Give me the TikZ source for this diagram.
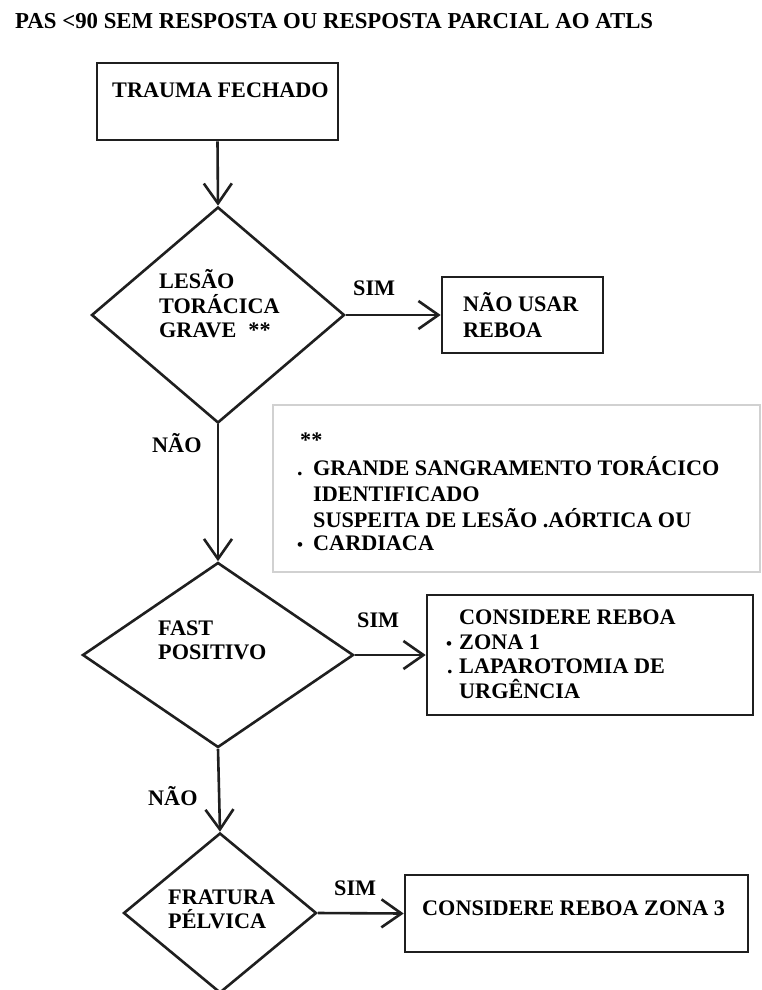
\documentclass[tikz,border=0pt]{standalone}
\usepackage{fontspec}
\setmainfont{Liberation Serif}
\usetikzlibrary{shapes.geometric,arrows.meta}
\begin{document}
\begin{tikzpicture}[x=1pt,y=-1pt,
  every node/.style={font=\bfseries\fontsize{22.2}{25}\selectfont, text=black},
  box/.style={draw=black!88, line width=2.6pt, rectangle, inner sep=0pt},
  dia/.style={draw=black!88, line width=2.6pt, diamond, inner sep=0pt},
  note/.style={draw=black!18, line width=2.4pt, rectangle, inner sep=0pt},
  txt/.style={anchor=base west, inner sep=0pt},
  arr/.style={draw=black!88, line width=2.6pt, -{Straight Barb[length=20pt,width=28pt]}}]
\useasboundingbox (0,0) rectangle (762,990);
\fill[white] (0,0) rectangle (762,990);

% title
\node[txt, font=\bfseries\fontsize{22.8}{25}\selectfont] (title) at (15,29) {PAS <90 SEM RESPOSTA OU RESPOSTA PARCIAL AO ATLS};

% shapes
\node[box, minimum width=241pt, minimum height=77pt] (trauma) at (217.5,101.5) {};
\node[dia, minimum width=253pt, minimum height=216pt] (d1) at (218,315) {};
\node[box, minimum width=161pt, minimum height=76pt] (naousar) at (522.5,315) {};
\node[note, minimum width=487pt, minimum height=167pt] (nota) at (516.5,488.5) {};
\node[dia, minimum width=271pt, minimum height=185pt] (d2) at (218,655) {};
\node[box, minimum width=326pt, minimum height=120pt] (zona1) at (590,655) {};
\node[dia, minimum width=193pt, minimum height=160pt] (d3) at (220,913) {};
\node[box, minimum width=343pt, minimum height=77pt] (zona3) at (576.5,913.5) {};

% texts
\node[txt] (t1) at (112,97) {TRAUMA FECHADO};
\node[txt] (l1) at (159,288) {LESÃO};
\node[txt] (l2) at (159,313) {TORÁCICA};
\node[txt] (l3) at (159,337) {GRAVE\hspace{12pt}**};
\node[txt] (s1) at (353,295) {SIM};
\node[txt] (n1a) at (463,311) {NÃO USAR};
\node[txt] (n1b) at (463,337) {REBOA};
\node[txt] (nao1) at (152,452) {NÃO};

\node[txt] (ast) at (300,447) {**};
\node[txt] (b1) at (297,475) {.};
\node[txt] (g1) at (313,475) {GRANDE SANGRAMENTO TORÁCICO};
\node[txt] (g2) at (313,501) {IDENTIFICADO};
\node[txt] (g3) at (313,527) {SUSPEITA DE LESÃO .AÓRTICA OU};
\node[txt] (b2) at (297,550) {\fontsize{17}{18}\selectfont •};
\node[txt] (g4) at (313,550) {CARDIACA};

\node[txt] (f1) at (158,635) {FAST};
\node[txt] (f2) at (158,659) {POSITIVO};
\node[txt] (s2) at (357,627) {SIM};
\node[txt] (c1) at (459,624) {CONSIDERE REBOA};
\node[txt] (b3) at (446,649) {\fontsize{17}{18}\selectfont •};
\node[txt] (c2) at (459,649) {ZONA 1};
\node[txt] (b4) at (447,673) {.};
\node[txt] (c3) at (459,673) {LAPAROTOMIA DE};
\node[txt] (c4) at (459,698) {URGÊNCIA};
\node[txt] (nao2) at (148,805) {NÃO};

\node[txt] (p1) at (168,904) {FRATURA};
\node[txt] (p2) at (168,928) {PÉLVICA};
\node[txt] (s3) at (334,895) {SIM};
\node[txt] (z3) at (422,915) {CONSIDERE REBOA ZONA 3};

% connectors
\draw[arr] (trauma.south) -- (d1.north);
\draw[arr] (d1.east) -- (naousar.west);
\draw[arr] (d1.south) -- (d2.north);
\draw[arr] (d2.east) -- (zona1.west);
\draw[arr] (d2.south) -- (d3.north);
\draw[arr] (d3.east) -- (zona3.west);
\end{tikzpicture}
\end{document}
